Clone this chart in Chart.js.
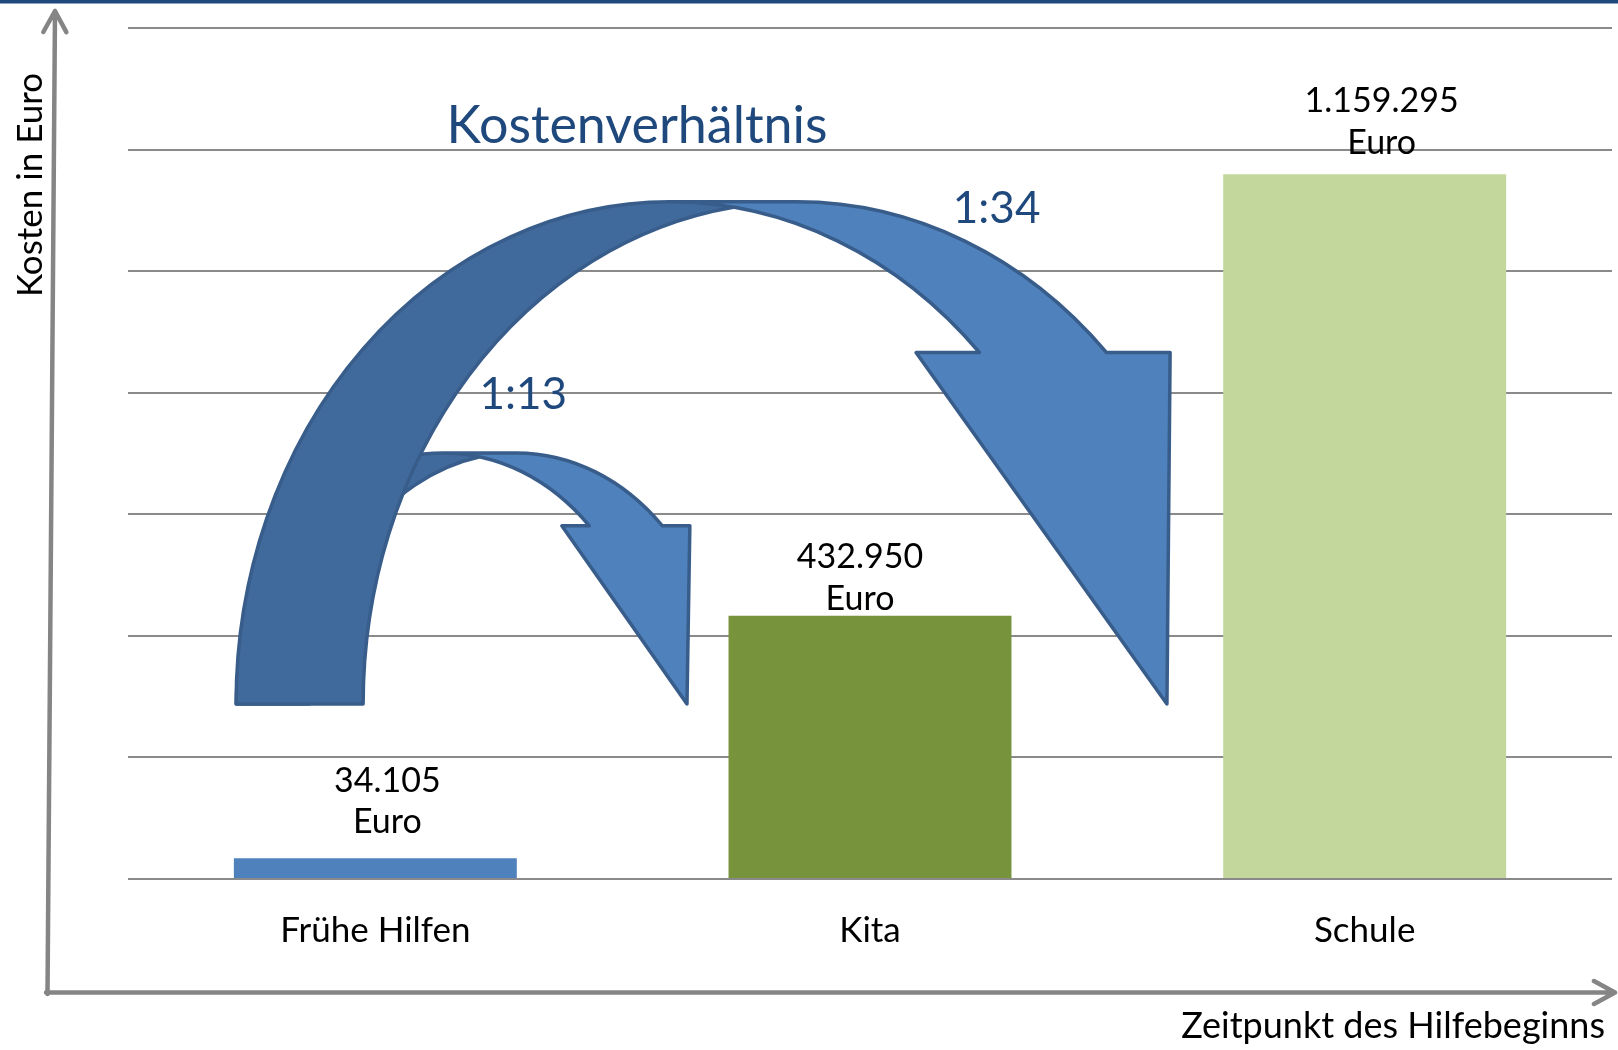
<!DOCTYPE html>
<html>
<head>
<meta charset="utf-8">
<title>Kostenverhältnis</title>
<script src="https://cdn.jsdelivr.net/npm/chart.js@4.4.1/dist/chart.umd.min.js"></script>
<style>
  html, body { margin: 0; padding: 0; background: #fff; }
  canvas { display: block; }
</style>
</head>
<body>
<canvas id="chart" width="1618" height="1050"></canvas>
<script>
// data
const categories = ["Frühe Hilfen", "Kita", "Schule"];
const costs = [34105, 432950, 1159295];
const costLabels = ["34.105", "432.950", "1.159.295"];
const barColors = ["#4F81BD", "#77933C", "#C3D69B"];
const ratioLabels = ["1:13", "1:34"];
const yMax = 1400000;
const yStep = 200000;

const blue = "#1F497D";

// label placement next to each bar: dx (px), baseline of line 1 and 2 above bar top
const labelShift = [[12, 66, 25], [-10, 48, 6], [17, 62, 20]];

// curved arrows, in category units (x) and euro units (y)
const smallArrow = { left: -0.281, th: 0.1476, wR: 0.4186, base: 288000, top: 701000, head: 581000, aw: 0.2588 };
const bigArrow = { left: -0.2815, th: 0.2568, wR: 0.8767, base: 288000, top: 1114000, head: 866000, aw: 0.5136 };

function catPx(chart, c) {
  const x = chart.scales.x;
  const step = x.getPixelForValue(1) - x.getPixelForValue(0);
  return x.getPixelForValue(0) + c * step;
}
function catW(chart, w) {
  const x = chart.scales.x;
  return w * (x.getPixelForValue(1) - x.getPixelForValue(0));
}

function drawCurvedArrow(chart, a) {
  const ctx = chart.ctx, ys = chart.scales.y;
  const left = catPx(chart, a.left), th = catW(chart, a.th), wR = catW(chart, a.wR), aw = catW(chart, a.aw);
  const b = ys.getPixelForValue(a.base), top = ys.getPixelForValue(a.top), y1 = ys.getPixelForValue(a.head);
  const H = b - top;
  const cx1 = left + wR, cx2 = cx1 + th;
  const tN = -Math.asin((b - y1) / H);
  const k = Math.cos(tN);
  const notch = cx1 + wR * k, shoulder = cx2 + wR * k;
  const dh = (aw - th) / 2;
  const tipX = cx1 + wR + th / 2;
  const c = th / 2 / wR, s = Math.sqrt(1 - c * c);
  const u = Math.atan2(-s, -c), v = Math.atan2(-s, c);
  const ix = cx1 + th / 2, iy = b - H * s;

  ctx.save();
  // front band with head
  ctx.beginPath();
  ctx.moveTo(tipX, b);
  ctx.lineTo(notch - dh, y1);
  ctx.lineTo(notch, y1);
  ctx.ellipse(cx1, b, wR, H, 0, tN, -Math.PI / 2, true);
  ctx.lineTo(cx2, top);
  ctx.ellipse(cx2, b, wR, H, 0, -Math.PI / 2, tN, false);
  ctx.lineTo(shoulder + dh, y1);
  ctx.closePath();
  ctx.fillStyle = "#4F81BD";
  ctx.fill();

  // back of the band (tail)
  ctx.beginPath();
  ctx.moveTo(ix, iy);
  ctx.ellipse(cx2, b, wR, H, 0, u, -Math.PI, true);
  ctx.lineTo(left, b);
  ctx.ellipse(cx1, b, wR, H, 0, Math.PI, v + 2 * Math.PI, false);
  ctx.closePath();
  ctx.fillStyle = "#416A9C";
  ctx.fill();

  // outline
  ctx.beginPath();
  ctx.moveTo(ix, iy);
  ctx.ellipse(cx2, b, wR, H, 0, u, -Math.PI, true);
  ctx.lineTo(left, b);
  ctx.ellipse(cx1, b, wR, H, 0, Math.PI, 1.5 * Math.PI, false);
  ctx.lineTo(cx2, top);
  ctx.ellipse(cx2, b, wR, H, 0, -Math.PI / 2, tN, false);
  ctx.lineTo(shoulder + dh, y1);
  ctx.lineTo(tipX, b);
  ctx.lineTo(notch - dh, y1);
  ctx.lineTo(notch, y1);
  ctx.ellipse(cx1, b, wR, H, 0, tN, -Math.PI / 2, true);
  ctx.strokeStyle = "#385D8A";
  ctx.lineWidth = 3.5;
  ctx.lineJoin = "round";
  ctx.stroke();
  ctx.restore();
}

function arrowLine(ctx, x1, y1, x2, y2) {
  const ang = Math.atan2(y2 - y1, x2 - x1);
  const len = 24, spread = 0.5;
  ctx.beginPath();
  ctx.moveTo(x1, y1);
  ctx.lineTo(x2, y2);
  ctx.moveTo(x2 - len * Math.cos(ang - spread), y2 - len * Math.sin(ang - spread));
  ctx.lineTo(x2, y2);
  ctx.lineTo(x2 - len * Math.cos(ang + spread), y2 - len * Math.sin(ang + spread));
  ctx.stroke();
}

const decorPlugin = {
  id: "decor",
  afterDatasetsDraw(chart) {
    const ctx = chart.ctx, ys = chart.scales.y;

    // top border
    ctx.save();
    ctx.fillStyle = blue;
    ctx.fillRect(0, 0, chart.width, 3.5);

    // value labels above the bars
    ctx.fillStyle = "#000";
    ctx.font = "34px Lato";
    ctx.textAlign = "center";
    ctx.textBaseline = "alphabetic";
    chart.getDatasetMeta(0).data.forEach((bar, i) => {
      const sh = labelShift[i];
      ctx.fillText(costLabels[i], bar.x + sh[0], bar.y - sh[1]);
      ctx.fillText("Euro", bar.x + sh[0], bar.y - sh[2]);
    });
    ctx.restore();

    drawCurvedArrow(chart, smallArrow);
    drawCurvedArrow(chart, bigArrow);

    ctx.save();
    ctx.fillStyle = blue;
    ctx.textAlign = "center";
    ctx.textBaseline = "alphabetic";
    ctx.font = "52px Lato";
    ctx.fillText("Kostenverhältnis", catPx(chart, 0.529), ys.getPixelForValue(1210000));
    ctx.font = "44px Lato";
    ctx.fillText(ratioLabels[0], catPx(chart, 0.299), ys.getPixelForValue(773000));
    ctx.fillText(ratioLabels[1], catPx(chart, 1.256), ys.getPixelForValue(1080000));

    // axes with arrow heads
    ctx.strokeStyle = "#858585";
    ctx.lineWidth = 4.5;
    ctx.lineCap = "round";
    ctx.lineJoin = "round";
    arrowLine(ctx, 47.5, 994, 55, 11);
    arrowLine(ctx, 46, 992.5, 1615, 992.5);

    // axis titles
    ctx.fillStyle = "#000";
    ctx.font = "36px Lato";
    ctx.textAlign = "right";
    ctx.fillText("Zeitpunkt des Hilfebeginns", 1605, 1038);
    ctx.translate(42, 185);
    ctx.rotate(-Math.PI / 2);
    ctx.textAlign = "center";
    ctx.font = "35px Lato";
    ctx.fillText("Kosten in Euro", 0, 0);
    ctx.restore();
  }
};

Chart.defaults.font.family = "Lato";

new Chart(document.getElementById("chart"), {
  type: "bar",
  data: {
    labels: categories,
    datasets: [{
      data: costs,
      backgroundColor: barColors,
      borderWidth: 0,
      categoryPercentage: 1,
      barPercentage: 0.572
    }]
  },
  options: {
    responsive: false,
    animation: false,
    layout: { padding: { left: 128, right: 6, top: 28, bottom: 67 } },
    plugins: {
      legend: { display: false },
      tooltip: { enabled: false }
    },
    scales: {
      x: {
        grid: { display: false, drawTicks: false },
        border: { display: false },
        ticks: { color: "#000", font: { size: 35 }, padding: 31 }
      },
      y: {
        min: 0,
        max: yMax,
        ticks: { display: false, stepSize: yStep },
        grid: { color: "#8A8A8A", lineWidth: 2, drawTicks: false },
        border: { display: false }
      }
    }
  },
  plugins: [decorPlugin]
});
</script>
</body>
</html>
